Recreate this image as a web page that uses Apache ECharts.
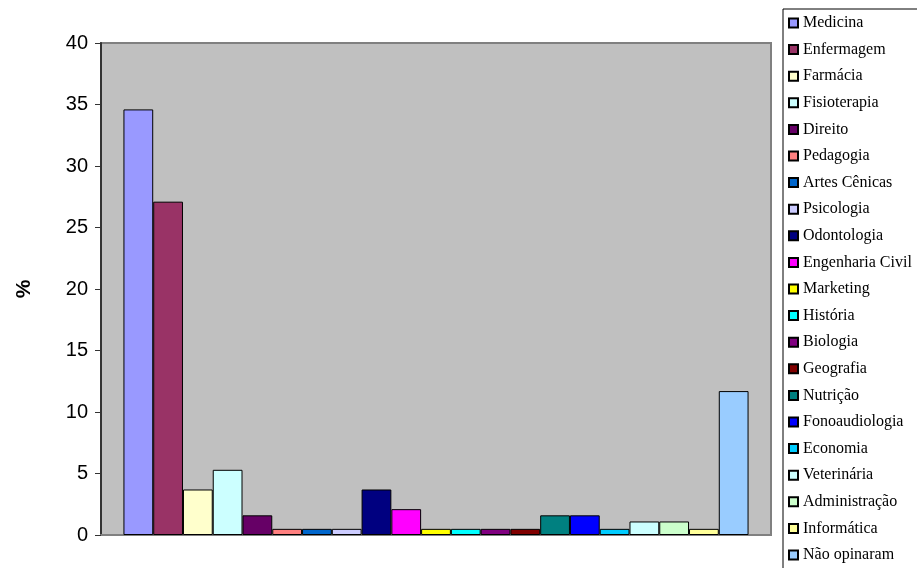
<!DOCTYPE html>
<html>
<head>
<meta charset="utf-8">
<script src="https://cdn.jsdelivr.net/npm/echarts@6/dist/echarts.min.js"></script>
<style>html,body{margin:0;padding:0;background:#fff}#c{width:917px;height:568px}</style>
</head>
<body>
<div id="c"></div>
<script>
const names = ['Medicina','Enfermagem','Farmácia','Fisioterapia','Direito','Pedagogia','Artes Cênicas','Psicologia','Odontologia','Engenharia Civil','Marketing','História','Biologia','Geografia','Nutrição','Fonoaudiologia','Economia','Veterinária','Administração','Informática','Não opinaram'];
const values = [34.6, 27.1, 3.7, 5.3, 1.6, 0.5, 0.5, 0.5, 3.7, 2.1, 0.5, 0.5, 0.5, 0.5, 1.6, 1.6, 0.5, 1.1, 1.1, 0.5, 11.7];
const colors = ['#9999FF','#993366','#FFFFCC','#CCFFFF','#660066','#FF8080','#0066CC','#CCCCFF','#000080','#FF00FF','#FFFF00','#00FFFF','#800080','#800000','#008080','#0000FF','#00CCFF','#CCFFFF','#CCFFCC','#FFFF99','#99CCFF'];
const yTicks = [0, 40, 5];

const chart = echarts.init(document.getElementById('c'), null, {renderer: 'canvas'});
const series = names.map((n, i) => ({
  name: n,
  type: 'bar',
  data: [values[i]],
  barGap: '0%',
  barCategoryGap: '6.7%',
  itemStyle: {color: colors[i], borderColor: '#000', borderWidth: 1},
  emphasis: {disabled: true}
}));
chart.setOption({
  animation: false,
  grid: {left: 101, top: 43, width: 670, height: 492, show: true, backgroundColor: '#C0C0C0', borderColor: '#808080', borderWidth: 2},
  xAxis: {type: 'category', data: [''], axisLabel: {show: false}, axisTick: {show: false}, axisLine: {lineStyle: {color: '#808080', width: 2}}},
  yAxis: {
    type: 'value', min: yTicks[0], max: yTicks[1], interval: yTicks[2],
    name: '%', nameLocation: 'middle', nameGap: 66,
    nameTextStyle: {fontFamily: 'Liberation Sans', fontSize: 21, fontWeight: 'bold', color: '#000'},
    axisLine: {show: true, lineStyle: {color: '#333', width: 2}},
    axisTick: {show: true, length: 6, lineStyle: {color: '#333'}},
    splitLine: {show: false},
    axisLabel: {fontFamily: 'Liberation Sans', fontSize: 20, color: '#000', margin: 13}
  },
  legend: {
    orient: 'vertical', left: 783, top: 9, height: 620,
    backgroundColor: '#fff', borderColor: '#000', borderWidth: 1,
    padding: [6, 10, 6, 5],
    itemWidth: 9, itemHeight: 9, itemGap: 10.6,
    icon: 'rect',
    textStyle: {fontFamily: 'Liberation Serif', fontSize: 16, color: '#000'},
    data: names
  },
  series: series
});
</script>
</body>
</html>
